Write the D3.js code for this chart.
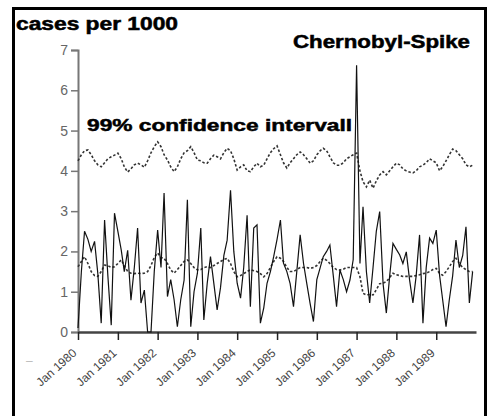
<!DOCTYPE html>
<html><head><meta charset="utf-8">
<script src="https://cdn.jsdelivr.net/npm/d3@7"></script>
<style>body{margin:0;background:#fff;}svg{display:block;}</style>
</head><body>
<svg id="chart" width="489" height="416"></svg>
<script>
// monthly series Jan 1980 .. Dec 1989
const startYear = 1980;
const cases = [
0.1,1.5,2.5,2.3,2.0,2.25,1.45,0.22,2.78,1.4,0.17,2.95,
2.5,2.03,1.5,2.03,0.79,1.6,2.58,0.72,1.04,0.0,0.0,1.5,
2.53,1.6,3.45,0.88,1.3,0.8,0.13,0.8,1.29,3.28,0.13,1.0,
1.46,2.58,0.3,1.21,1.87,1.2,0.55,1.1,1.9,2.28,3.52,2.0,
1.21,0.84,1.6,2.9,0.63,2.58,2.66,0.22,0.6,1.21,1.5,1.87,
2.3,2.78,1.71,1.5,1.2,0.63,1.5,2.41,1.7,1.2,0.7,0.26,
1.3,1.6,1.87,2.0,2.16,1.4,0.63,1.54,1.3,1.0,1.29,1.8,
6.62,1.7,3.11,1.5,0.72,1.6,2.5,2.99,1.2,0.47,1.4,2.2,
2.05,1.91,1.7,1.99,1.3,0.72,1.4,2.41,0.22,1.6,2.33,2.2,
2.53,1.4,0.8,0.13,0.8,1.4,2.28,1.6,1.9,2.61,0.72,1.5
];
const upperCI = [
4.25,4.4,4.5,4.52,4.4,4.25,4.15,4.1,4.2,4.3,4.35,4.39,
4.44,4.3,4.1,3.97,4.05,4.15,4.19,4.15,4.09,4.25,4.45,4.6,
4.72,4.6,4.4,4.27,4.1,3.98,4.1,4.3,4.45,4.5,4.6,4.45,
4.27,4.25,4.2,4.19,4.3,4.39,4.35,4.3,4.45,4.56,4.5,4.3,
4.02,4.1,4.15,4.0,3.98,4.1,4.19,4.1,4.14,4.3,4.45,4.55,
4.62,4.4,4.2,4.07,4.2,4.3,4.4,4.47,4.4,4.3,4.19,4.25,
4.4,4.5,4.56,4.5,4.35,4.2,4.14,4.14,4.2,4.3,4.35,4.4,
4.44,4.0,3.73,3.6,3.77,3.57,3.75,3.9,3.98,3.9,4.0,4.1,
4.19,4.15,4.05,4.0,3.97,3.95,4.0,4.1,4.14,4.2,4.3,4.25,
4.2,4.0,4.1,4.25,4.4,4.54,4.5,4.4,4.3,4.15,4.1,4.14
];
const expected = [
1.62,1.75,1.87,1.7,1.5,1.4,1.38,1.5,1.66,1.65,1.6,1.62,
1.7,1.79,1.65,1.5,1.46,1.45,1.46,1.45,1.46,1.5,1.65,1.85,
1.96,1.85,1.83,1.7,1.54,1.46,1.55,1.65,1.75,1.79,1.7,1.6,
1.54,1.55,1.6,1.62,1.6,1.65,1.7,1.75,1.8,1.83,1.7,1.5,
1.37,1.4,1.45,1.5,1.55,1.52,1.5,1.45,1.37,1.45,1.6,1.75,
1.87,1.83,1.75,1.6,1.5,1.5,1.55,1.6,1.6,1.6,1.58,1.6,
1.65,1.75,1.83,1.78,1.7,1.6,1.55,1.54,1.56,1.6,1.6,1.6,
1.6,1.37,0.96,0.92,0.93,0.92,1.05,1.2,1.21,1.25,1.35,1.46,
1.42,1.4,1.38,1.38,1.38,1.38,1.4,1.42,1.45,1.46,1.5,1.55,
1.58,1.45,1.41,1.5,1.62,1.75,1.83,1.7,1.6,1.55,1.5,1.5
];
const yTicks = [0,1,2,3,4,5,6,7];
const xTickYears = [1980,1981,1982,1983,1984,1985,1986,1987,1988,1989];
const titleText = "cases per 1000";
const spikeText = "Chernobyl-Spike";
const ciText = "99% confidence intervall";

const dates = cases.map((_, i) => new Date(startYear + Math.floor(i/12), i % 12, 1));
const svg = d3.select("#chart");

// frame
svg.append("rect").attr("x",13.5).attr("y",8.5).attr("width",472).attr("height",420)
  .attr("fill","none").attr("stroke","#000").attr("stroke-width",3);

const x = d3.scaleTime().domain([new Date(1980,0,1), new Date(1990,0,1)]).range([78, 476]);
const y = d3.scaleLinear().domain([0,7]).range([332, 50]);

// y axis
const gy = svg.append("g").attr("transform","translate(78,0)")
  .call(d3.axisLeft(y).tickValues(yTicks).tickFormat(d3.format("d")).tickSize(7).tickPadding(3));
gy.select(".domain").attr("stroke","#777").attr("stroke-width",2);
gy.selectAll(".tick line").attr("stroke","#777").attr("stroke-width",1.5);
gy.selectAll(".tick text").attr("fill","#666").attr("font-family","Liberation Sans, Arial, sans-serif").attr("font-size",14);

// x axis
const gx = svg.append("g").attr("transform","translate(0,332)")
  .call(d3.axisBottom(x).tickValues(xTickYears.map(yr => new Date(yr,0,1)))
    .tickFormat(d => "Jan " + d.getFullYear()).tickSize(8).tickSizeOuter(0));
gx.select(".domain").attr("stroke","#444").attr("stroke-width",2.5);
gx.selectAll(".tick line").attr("stroke","#222").attr("stroke-width",1.5);
gx.selectAll(".tick text")
  .attr("fill","#444").attr("font-family","Liberation Sans, Arial, sans-serif").attr("font-size",12)
  .attr("text-anchor","end").attr("dy",0).attr("y",0)
  .attr("transform","translate(-1,22) rotate(-42)");

// stray mark
svg.append("text").attr("x",26).attr("y",365).attr("fill","#bbb")
  .attr("font-family","Liberation Sans, Arial, sans-serif").attr("font-size",12).text("–");

const line = arr => d3.line().x((d,i) => x(dates[i])).y(d => y(d))(arr);

svg.append("path").attr("d", line(upperCI)).attr("fill","none")
  .attr("stroke","#333").attr("stroke-width",1.6).attr("stroke-dasharray","2.5,2");
svg.append("path").attr("d", line(expected)).attr("fill","none")
  .attr("stroke","#333").attr("stroke-width",1.6).attr("stroke-dasharray","2.5,2");
svg.append("path").attr("d", line(cases)).attr("fill","none")
  .attr("stroke","#111").attr("stroke-width",1.2).attr("stroke-linejoin","miter");

// texts
const bold = "Liberation Sans, Arial, sans-serif";
svg.append("text").attr("x",16).attr("y",30).attr("font-family",bold).attr("font-weight","bold")
  .attr("font-size",17.5).attr("stroke","#000").attr("stroke-width",0.5)
  .attr("textLength",162).attr("lengthAdjust","spacingAndGlyphs").text(titleText);
svg.append("text").attr("x",293).attr("y",48).attr("font-family",bold).attr("font-weight","bold")
  .attr("font-size",18).attr("stroke","#000").attr("stroke-width",0.5)
  .attr("textLength",177).attr("lengthAdjust","spacingAndGlyphs").text(spikeText);
svg.append("text").attr("x",87).attr("y",131).attr("font-family",bold).attr("font-weight","bold")
  .attr("font-size",17).attr("stroke","#000").attr("stroke-width",0.5)
  .attr("textLength",265).attr("lengthAdjust","spacingAndGlyphs").text(ciText);
</script>
</body></html>
